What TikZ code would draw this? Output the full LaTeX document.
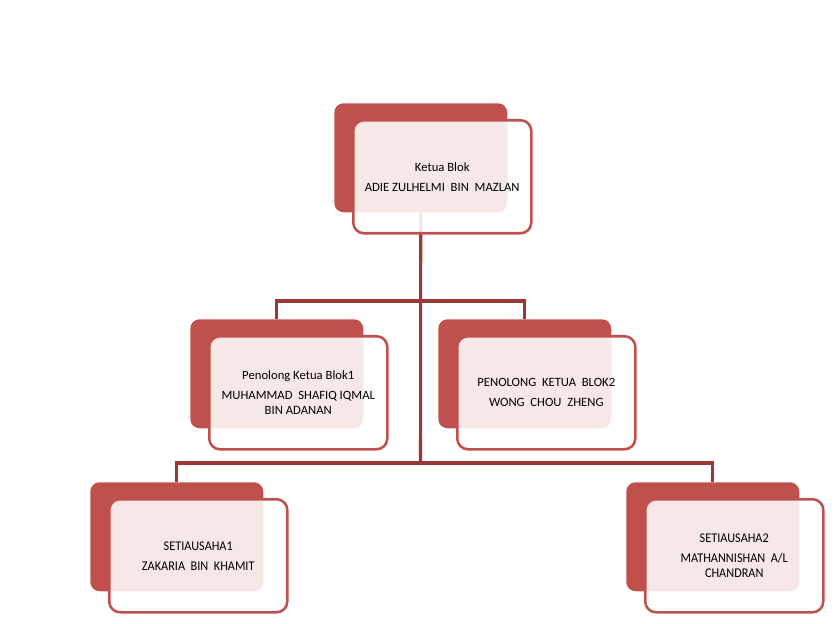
\documentclass[tikz,border=0pt]{standalone}
\usepackage{fontspec}
\setmainfont{Carlito}
\newfontfamily\condfont[FakeStretch=0.92]{Carlito}
\usetikzlibrary{backgrounds}
\definecolor{accent}{RGB}{192,80,77}
\definecolor{linkc}{RGB}{155,56,54}
\begin{document}
\begin{tikzpicture}[x=0.75pt,y=-0.75pt,
  backbox/.style={draw=none,fill=accent,rounded corners=7pt,anchor=north west,
    inner sep=0pt,minimum width=173*0.75pt,minimum height=109*0.75pt},
  frontbox/.style={draw=accent,line width=1.9pt,fill=white,fill opacity=0.87,text opacity=1,
    rounded corners=8pt,anchor=north west,inner sep=0pt,align=center,
    minimum width=178*0.75pt,minimum height=113*0.75pt,
    font=\fontsize{9.5}{11.25}\selectfont},
  condbox/.style={frontbox,font=\condfont\fontsize{10}{11.25}\selectfont},
  link/.style={draw=linkc,line width=2.3pt}]
\useasboundingbox (0,0) rectangle (840,624);
% top
\node[backbox] (b0) at (334,103) {};
\node[frontbox] (f0) at (352,119) {Ketua Blok\\[3.75pt]ADIE ZULHELMI\ \ BIN\ \ MAZLAN};
% middle
\node[backbox] (b1) at (190,319) {};
\node[frontbox] (f1) at (208,335) {Penolong Ketua Blok1\\[3.75pt]MUHAMMAD\ \ SHAFIQ IQMAL\\BIN ADANAN};
\node[backbox] (b2) at (438,319) {};
\node[frontbox] (f2) at (456,335) {PENOLONG\ \ KETUA\ \ BLOK2\\[3.75pt]WONG\ \ CHOU\ \ ZHENG};
% bottom
\node[backbox] (b3) at (90,482) {};
\node[condbox] (f3) at (108,498) {SETIAUSAHA1\\[3.75pt]ZAKARIA\ \ BIN\ \ KHAMIT};
\node[backbox] (b4) at (626,482) {};
\node[condbox] (f4) at (644,498) {SETIAUSAHA2\\[3.75pt]MATHANNISHAN\ \ A/L\\CHANDRAN};
% connectors
\coordinate (j1) at (420.5,301);
\coordinate (j2) at (420.5,463);
\begin{pgfonlayer}{background}
\draw[link] (b0.south) -- (j2);
\draw[link] (b1.north) |- (j1) -| (b2.north);
\draw[link] (b3.north) |- (j2) -| (b4.north);
\end{pgfonlayer}
\end{tikzpicture}
\end{document}
